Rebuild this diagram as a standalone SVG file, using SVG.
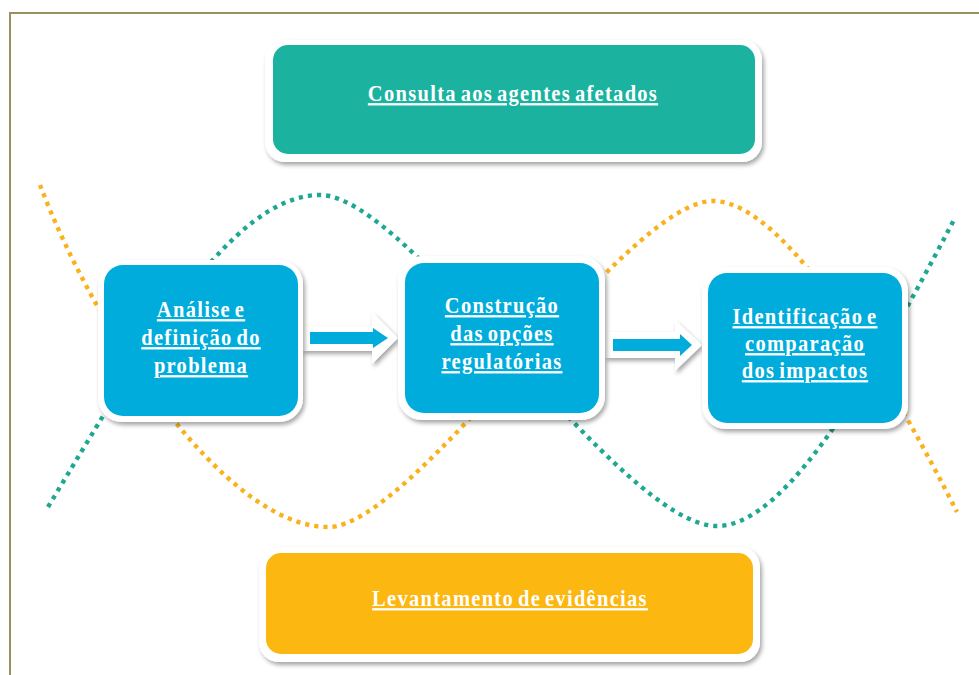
<svg xmlns="http://www.w3.org/2000/svg" width="979" height="675" viewBox="0 0 979 675">
  <defs>
    <filter id="shadow" x="-10%" y="-10%" width="120%" height="130%">
      <feDropShadow dx="2" dy="3" stdDeviation="2" flood-color="#000" flood-opacity="0.35"/>
    </filter>
    <style>
      .frame { fill: #fff; stroke: #9a915f; stroke-width: 2; }
      .wave { fill: none; stroke-width: 4.4; stroke-dasharray: 4.2 5; }
      .wave-teal { stroke: #1ea893; }
      .wave-gold { stroke: #f9b21c; }
      .halo { fill: #fff; filter: url(#shadow); }
      .teal { fill: #1bb3a0; }
      .gold { fill: #fdb711; }
      .blue { fill: #00acdb; }
      .arrow-halo { fill: #fff; filter: url(#shadow); }
      .arrow { fill: #00acdb; }
      .label { font-family: "Liberation Serif", "Times New Roman", serif; font-weight: bold; font-size: 20.5px; fill: #fff; text-anchor: middle; letter-spacing: 1.3px; word-spacing: -2.5px; text-decoration: underline; }
    </style>
  </defs>

  <rect x="0" y="0" width="979" height="675" fill="#fff"/>
  <rect class="frame" x="10" y="13" width="1000" height="700"/>

  <!-- two dotted waves running behind the process boxes -->
  <g id="waves">
    <path class="wave wave-teal" d="M48,507 C140,355 230,195 320,195 C410,195 620,526 717,526 C790,526 880,360 955,218"/>
    <path class="wave wave-gold" d="M40,185 C95,330 225,527 328,527 C415,527 625,201 713,201 C790,201 900,400 957,512"/>
  </g>

  <!-- flow arrows between the process boxes -->
  <g id="connectors">
    <polygon class="arrow-halo" points="302,326 372,326 372,312 398,338 372,364 372,351 302,351"/>
    <polygon class="arrow" points="310,332 373,332 373,328 388,338 373,348 373,344 310,344"/>
    <polygon class="arrow-halo" points="605,332 675,332 675,320 702,345 675,371 675,358 605,358"/>
    <polygon class="arrow" points="613,339 680,339 680,334 692,345 680,356 680,351 613,351"/>
  </g>

  <g id="consulta">
    <rect class="halo" x="265" y="40" width="497" height="122" rx="20"/>
    <rect class="teal" x="273" y="45" width="482" height="109" rx="15"/>
    <text class="label" transform="translate(513,101) scale(1,1.14)">Consulta aos agentes afetados</text>
  </g>

  <g id="analise">
    <rect class="halo" x="98" y="260" width="205" height="162" rx="24"/>
    <rect class="blue" x="104" y="265" width="194" height="151" rx="19"/>
    <text class="label" transform="translate(201,317) scale(1,1.14)">Análise e</text>
    <text class="label" transform="translate(201,345) scale(1,1.14)">definição do</text>
    <text class="label" transform="translate(201,373) scale(1,1.14)">problema</text>
  </g>

  <g id="construcao">
    <rect class="halo" x="398" y="256" width="207" height="164" rx="24"/>
    <rect class="blue" x="405" y="263" width="194" height="150" rx="19"/>
    <text class="label" transform="translate(502,313) scale(1,1.14)">Construção</text>
    <text class="label" transform="translate(502,341) scale(1,1.14)">das opções</text>
    <text class="label" transform="translate(502,369) scale(1,1.14)">regulatórias</text>
  </g>

  <g id="identificacao">
    <rect class="halo" x="702" y="267" width="206" height="162" rx="24"/>
    <rect class="blue" x="708" y="273" width="194" height="150" rx="19"/>
    <text class="label" transform="translate(805,324) scale(1,1.14)">Identificação e</text>
    <text class="label" transform="translate(805,351) scale(1,1.14)">comparação</text>
    <text class="label" transform="translate(805,378) scale(1,1.14)">dos impactos</text>
  </g>

  <g id="levantamento">
    <rect class="halo" x="259" y="547" width="501" height="115" rx="20"/>
    <rect class="gold" x="266" y="553" width="487" height="101" rx="15"/>
    <text class="label" transform="translate(510,606) scale(1,1.14)">Levantamento de evidências</text>
  </g>
</svg>
